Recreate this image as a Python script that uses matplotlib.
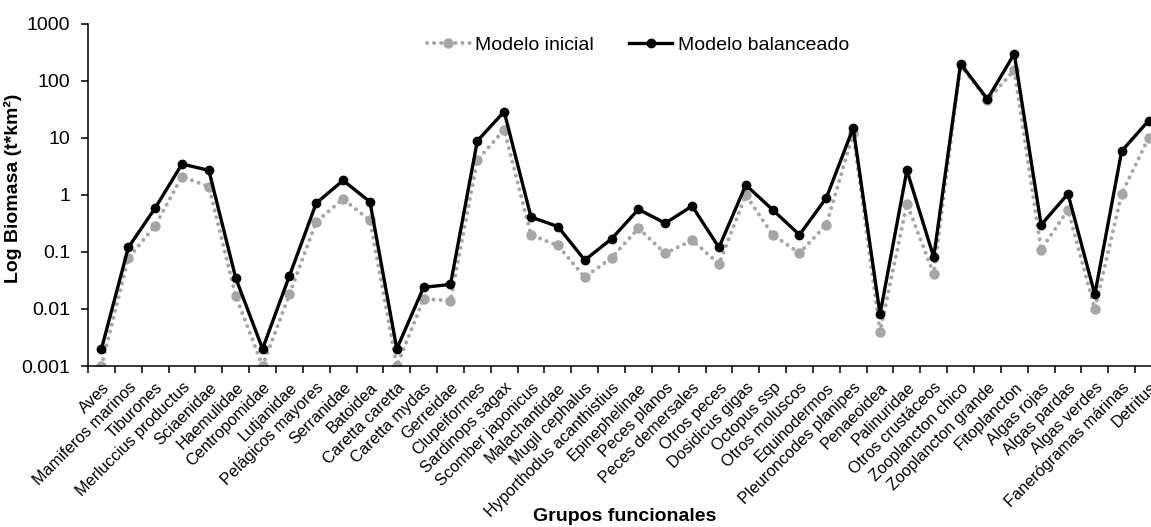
import numpy as np
import matplotlib
matplotlib.use("Agg")
from matplotlib import pyplot as plt
from matplotlib.ticker import FixedLocator, NullLocator, FuncFormatter

grupos = ['Aves', 'Mamiferos marinos', 'Tiburones', 'Merluccius productus', 'Sciaenidae',
          'Haemulidae', 'Centropomidae', 'Lutjanidae', 'Pelágicos mayores', 'Serranidae',
          'Batoidea', 'Caretta caretta', 'Caretta mydas', 'Gerreidae', 'Clupeiformes',
          'Sardinops sagax', 'Scomber japonicus', 'Malachantidae', 'Mugil cephalus',
          'Hyporthodus acanthistius', 'Epinephelinae', 'Peces planos', 'Peces demersales',
          'Otros peces', 'Dosidicus gigas', 'Octopus ssp', 'Otros moluscos', 'Equinodermos',
          'Pleuroncodes planipes', 'Penaeoidea', 'Palinuridae', 'Otros crustáceos',
          'Zooplancton chico', 'Zooplancton grande', 'Fitoplancton', 'Algas rojas',
          'Algas pardas', 'Algas verdes', 'Fanerógramas márinas', 'Detritus']

inicial = [0.001, 0.078, 0.29, 2.1, 1.4,
           0.017, 0.001, 0.018, 0.34, 0.85,
           0.36, 0.001, 0.015, 0.014, 4.1,
           14, 0.20, 0.13, 0.036,
           0.079, 0.26, 0.095, 0.16,
           0.062, 1.0, 0.20, 0.096, 0.30,
           12, 0.004, 0.70, 0.041,
           190, 46, 155, 0.11,
           0.55, 0.010, 1.05, 10]

balanceado = [0.002, 0.12, 0.59, 3.5, 2.7,
              0.035, 0.002, 0.038, 0.72, 1.8,
              0.76, 0.002, 0.024, 0.027, 8.9,
              29, 0.41, 0.28, 0.072,
              0.17, 0.56, 0.32, 0.64,
              0.12, 1.5, 0.55, 0.20, 0.89,
              15, 0.0081, 2.7, 0.081,
              200, 48, 300, 0.30,
              1.05, 0.018, 5.9, 20]

plt.rcParams['font.family'] = ['Liberation Sans', 'DejaVu Sans']

x = np.arange(len(grupos))
fig = plt.figure(figsize=(11.51, 5.27), dpi=100)
ax = fig.add_axes([0.0765, 0.3055, 0.933, 0.649])

gris = '#A6A6A6'
ax.plot(x, inicial, color=gris, linestyle=(0, (0.01, 1.75)), linewidth=2.9,
        dash_capstyle='round', marker='o', markersize=6.5, label='Modelo inicial', zorder=2)
ax.plot(x, balanceado, color='black', linewidth=2.4, marker='o', markersize=6,
        label='Modelo balanceado', zorder=3)

ax.set_yscale('log')
ax.set_ylim(0.001, 1000)
ax.set_xlim(-0.5, len(grupos) - 0.5)
ax.yaxis.set_major_locator(FixedLocator([0.001, 0.01, 0.1, 1, 10, 100, 1000]))
ax.yaxis.set_minor_locator(NullLocator())
ax.yaxis.set_major_formatter(FuncFormatter(lambda v, p: '{:g}'.format(v)))

ax.set_xticks(x)
ax.set_xticklabels(grupos, rotation=45, ha='right', rotation_mode='anchor', fontsize=11.7)
ax.tick_params(axis='x', which='major', length=0, pad=10)
ax.set_xticks(np.arange(-0.5, len(grupos), 1), minor=True)
ax.tick_params(axis='x', which='minor', length=5, width=1.1, direction='out')
ax.tick_params(axis='y', labelsize=14, length=5, width=1.1, pad=8)

for s in ['top', 'right']:
    ax.spines[s].set_visible(False)
ax.spines['left'].set_linewidth(1.1)
ax.spines['bottom'].set_linewidth(1.1)

ax.set_ylabel('Log Biomasa (t*km²)', fontsize=14, fontweight='bold')
ax.yaxis.set_label_coords(-0.0615, 0.52)
fig.text(0.543, 0.011, 'Grupos funcionales', fontsize=14, fontweight='bold',
         ha='center', va='baseline')

ax.legend(loc='upper center', bbox_to_anchor=(0.512, 1.015), ncol=2, frameon=False,
          fontsize=14, handlelength=2.2, columnspacing=1.8, handletextpad=0.3)

fig.savefig('out.png', dpi=100)
